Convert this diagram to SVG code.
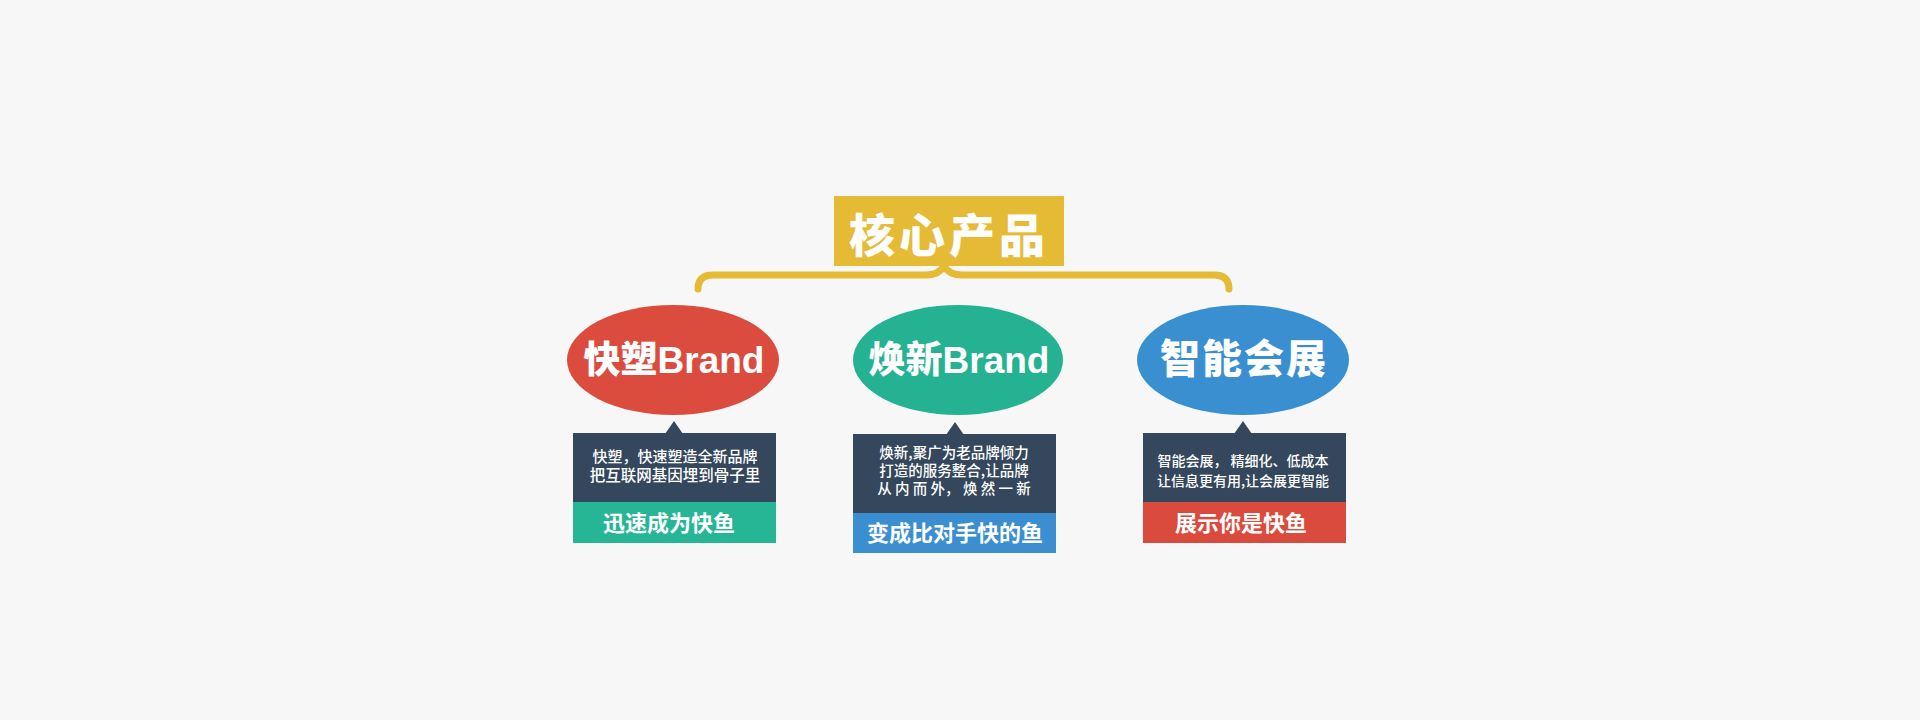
<svg xmlns="http://www.w3.org/2000/svg" width="1920" height="720" viewBox="0 0 1920 720">
<style>
.bg{fill:#f7f7f7}
.ttl{font-family:"Noto Sans CJK SC","Liberation Sans",sans-serif;font-weight:900;fill:#fff;text-anchor:middle}
.el{font-family:"Liberation Sans","Noto Sans CJK SC",sans-serif;font-weight:700;fill:#fff;text-anchor:middle}
.cj{font-family:"Noto Sans CJK SC",sans-serif;font-weight:900}
.desc{font-family:"Noto Sans CJK SC","Liberation Sans",sans-serif;font-weight:500;fill:#fff;text-anchor:middle}
.tag{font-family:"Noto Sans CJK SC","Liberation Sans",sans-serif;font-weight:700;fill:#fff;text-anchor:middle;font-size:22px}
.dark{fill:#34475c}
.brace{fill:none;stroke:#e5bb36;stroke-width:7;stroke-linecap:round;stroke-linejoin:round}
</style>
<rect class="bg" x="0" y="0" width="1920" height="720"/>
<g id="connectors">
<path class="brace" d="M698 289 Q698 275 713 275 L926 275 Q939 275 944 266 Q949 275 962 275 L1214 275 Q1229 275 1229 289"/>
</g>
<g id="title">
<rect x="834" y="196" width="230" height="70" fill="#e5bb36"/>
<text class="ttl" x="949" y="252" font-size="46" letter-spacing="4">核心产品</text>
</g>
<g id="node1">
<ellipse cx="673" cy="360" rx="106" ry="55" fill="#db4c3f"/>
<text class="el" x="674" y="373" font-size="37"><tspan class="cj">快塑</tspan>Brand</text>
<polygon class="dark" points="665,434 674,421 683,434"/>
<rect class="dark" x="573" y="433" width="203" height="70"/>
<text class="desc" x="675" y="462" font-size="15">快塑，快速塑造全新品牌</text>
<text class="desc" x="675" y="481" font-size="15.5">把互联网基因埋到骨子里</text>
<rect x="573" y="502" width="203" height="41" fill="#26b595"/>
<text class="tag" x="669" y="531">迅速成为快鱼</text>
</g>
<g id="node2">
<ellipse cx="958" cy="360" rx="105" ry="55" fill="#25b293"/>
<text class="el" x="959" y="373" font-size="37"><tspan class="cj">焕新</tspan>Brand</text>
<polygon class="dark" points="946,435 955,422 964,435"/>
<rect class="dark" x="853" y="434" width="203" height="80"/>
<text class="desc" x="954" y="458" font-size="14.5">焕新,聚广为老品牌倾力</text>
<text class="desc" x="954" y="476" font-size="14.5">打造的服务整合,让品牌</text>
<text class="desc" x="954" y="494" font-size="14.5">从 内 而 外， 焕 然 一 新</text>
<rect x="853" y="513" width="203" height="40" fill="#3b8ed0"/>
<text class="tag" x="955" y="541">变成比对手快的鱼</text>
</g>
<g id="node3">
<ellipse cx="1243" cy="360" rx="106" ry="55" fill="#3a8fd1"/>
<text class="el cj" x="1244" y="373" font-size="40" letter-spacing="2">智能会展</text>
<polygon class="dark" points="1234,434 1243,421 1252,434"/>
<rect class="dark" x="1143" y="433" width="203" height="70"/>
<text class="desc" x="1243" y="466" font-size="14">智能会展， 精细化、低成本</text>
<text class="desc" x="1243" y="486" font-size="14">让信息更有用,让会展更智能</text>
<rect x="1143" y="502" width="203" height="41" fill="#db4b3d"/>
<text class="tag" x="1241" y="531">展示你是快鱼</text>
</g>
</svg>
